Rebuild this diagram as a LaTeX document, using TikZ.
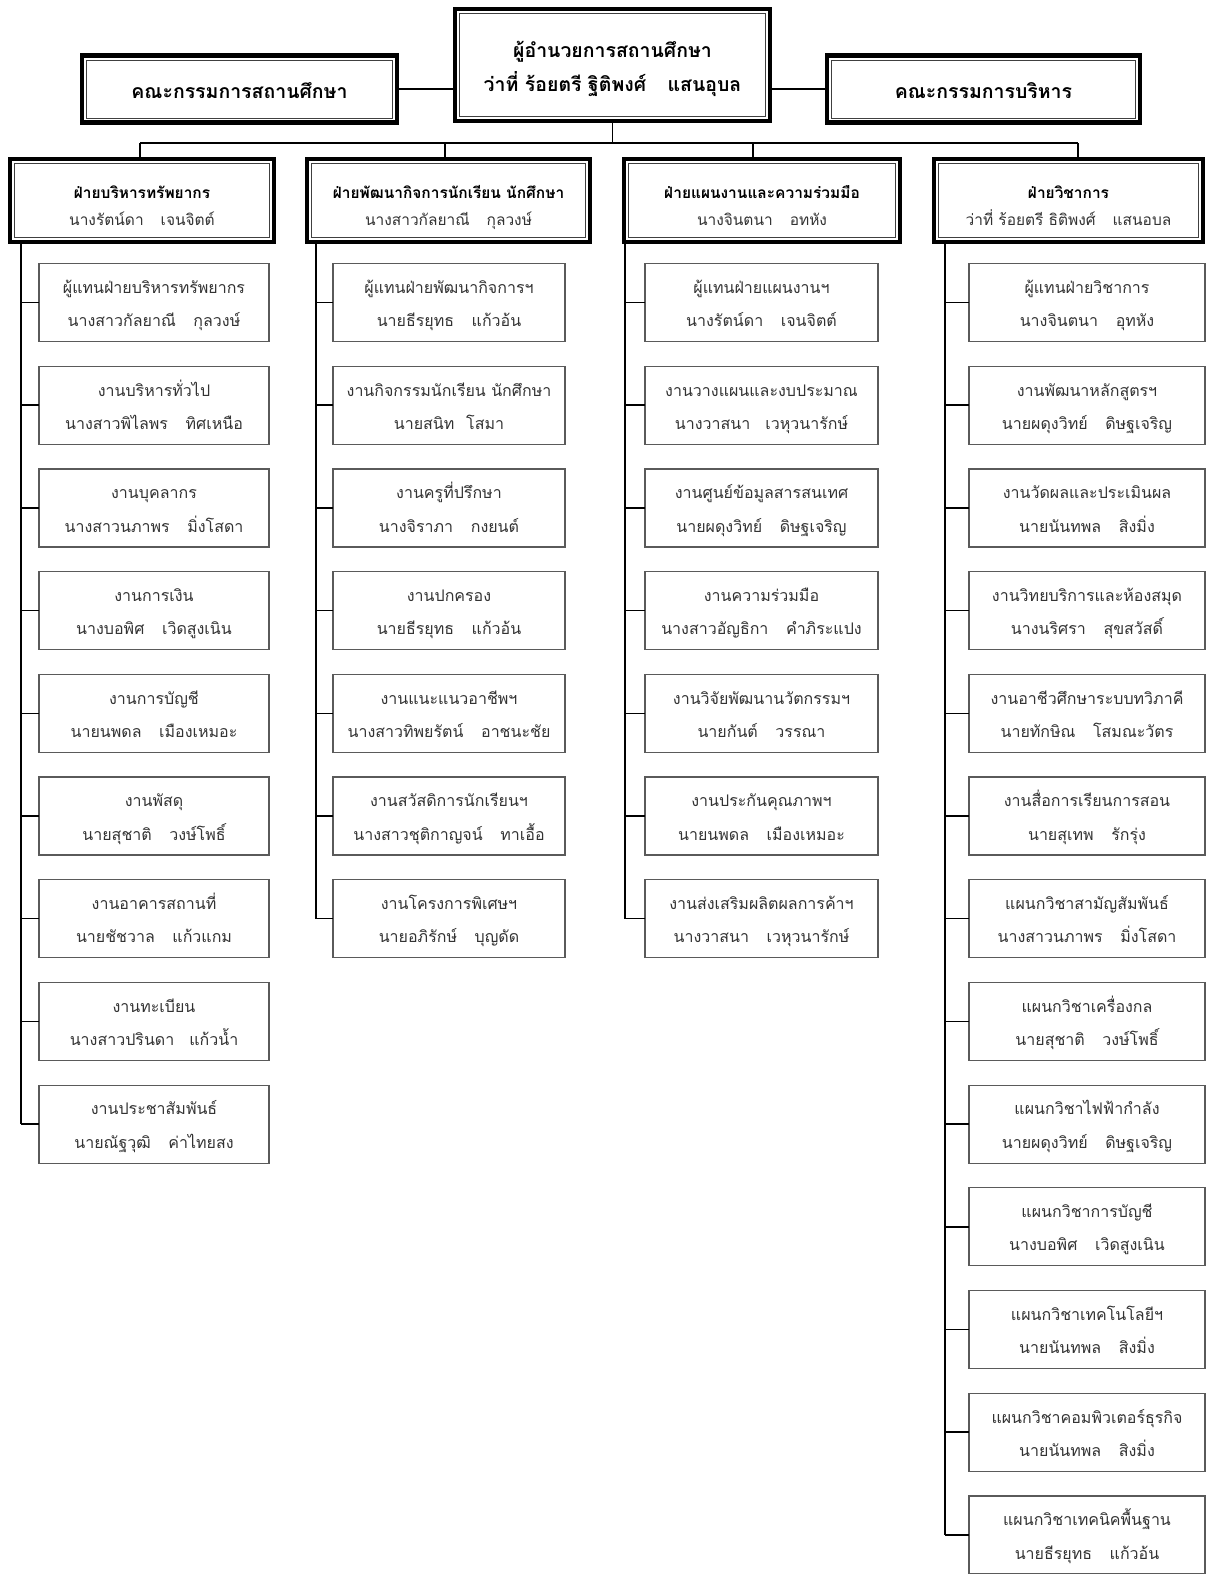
\documentclass[tikz,border=0pt]{standalone}
\usepackage{fontspec}
\setmainfont[Script=Thai]{Loma}
\definecolor{boxgray}{HTML}{5A5A5A}
\definecolor{txtgray}{HTML}{333333}
\newcommand\thgap{\hspace{1.1em}}
\newcommand\PX[1]{#1*0.75pt}
\newcommand\hiS[1]{\rule{0pt}{#1}}
\newcommand\loS[1]{\rule[-#1]{0pt}{0pt}}
\begin{document}
\begin{tikzpicture}[x={(0.75pt,0)},y={(0,-0.75pt)},
  bigbox/.style={draw=black, line width=3.2pt, outer sep=0pt, inner sep=0pt, align=center,
    font=\bfseries\fontsize{14.6}{25.5}\selectfont},
  headbox/.style={bigbox, minimum height=\PX{83}, font=\fontsize{11.6}{20}\selectfont},
  leaf/.style={draw=boxgray, line width=0.9pt, outer sep=0pt, inner sep=0pt, align=center,
    minimum height=\PX{78}, text=txtgray, font=\fontsize{12}{25}\selectfont},
  wire/.style={draw=black, line width=1.1pt},
  innerline/.style={draw=black!75, line width=0.6pt}]
\fill[white] (0,0) rectangle (1208,1574);
\useasboundingbox (0,0) rectangle (1208,1574);

% top level
\node[bigbox, minimum width=\PX{315}, minimum height=\PX{112}] (top) at (612.5,65)
  {\hiS{18.8pt}ผู้อำนวยการสถานศึกษา\\ว่าที่ ร้อยตรี ฐิติพงศ์\thgap แสนอุบล\loS{4.5pt}};
\node[bigbox, minimum width=\PX{315}, minimum height=\PX{67}] (L) at (239.5,89)
  {\hiS{18.2pt}คณะกรรมการสถานศึกษา\loS{4pt}};
\node[bigbox, minimum width=\PX{313}, minimum height=\PX{67}] (R) at (983.5,89)
  {\hiS{18.2pt}คณะกรรมการบริหาร\loS{4pt}};

% division heads
\node[headbox, minimum width=\PX{264}] (h1) at (142,200.5)
  {\hiS{21.2pt}\textbf{ฝ่ายบริหารทรัพยากร}\\\textcolor{txtgray}{นางรัตน์ดา\thgap เจนจิตต์}\loS{4pt}};
\node[headbox, minimum width=\PX{283}] (h2) at (448.5,200.5)
  {\hiS{21.2pt}\textbf{ฝ่ายพัฒนากิจการนักเรียน นักศึกษา}\\\textcolor{txtgray}{นางสาวกัลยาณี\thgap กุลวงษ์}\loS{4pt}};
\node[headbox, minimum width=\PX{276}] (h3) at (762,200.5)
  {\hiS{21.2pt}\textbf{ฝ่ายแผนงานและความร่วมมือ}\\\textcolor{txtgray}{นางจินตนา\thgap อทหัง}\loS{4pt}};
\node[headbox, minimum width=\PX{269}] (h4) at (1068.5,200.5)
  {\hiS{21.2pt}\textbf{ฝ่ายวิชาการ}\\\textcolor{txtgray}{ว่าที่ ร้อยตรี ธิติพงศ์\thgap แสนอบล}\loS{4pt}};

\foreach \n in {top,L,R,h1,h2,h3,h4}
  \draw[innerline] ([shift={(4.5,4.5)}]\n.north west) rectangle ([shift={(-4.5,-4.5)}]\n.south east);

% column 1
\foreach [count=\i] \t in {
  {ผู้แทนฝ่ายบริหารทรัพยากร\\นางสาวกัลยาณี\thgap กุลวงษ์},
  {งานบริหารทั่วไป\\นางสาวพิไลพร\thgap ทิศเหนือ},
  {งานบุคลากร\\นางสาวนภาพร\thgap มิ่งโสดา},
  {งานการเงิน\\นางบอพิศ\thgap เวิดสูงเนิน},
  {งานการบัญชี\\นายนพดล\thgap เมืองเหมอะ},
  {งานพัสดุ\\นายสุชาติ\thgap วงษ์โพธิ์},
  {งานอาคารสถานที่\\นายชัชวาล\thgap แก้วแกม},
  {งานทะเบียน\\นางสาวปรินดา\hspace{0.6em} แก้วน้ำ},
  {งานประชาสัมพันธ์\\นายณัฐวุฒิ\thgap ค่าไทยสง}}
  \node[leaf, minimum width=\PX{230}] (c1-\i) at (154,{302.5+102.7*(\i-1)}) {\hiS{15.2pt}\t\loS{4pt}};

% column 2
\foreach [count=\i] \t in {
  {ผู้แทนฝ่ายพัฒนากิจการฯ\\นายธีรยุทธ\thgap แก้วอ้น},
  {งานกิจกรรมนักเรียน นักศึกษา\\นายสนิท\hspace{0.4em} โสมา},
  {งานครูที่ปรึกษา\\นางจิราภา\thgap กงยนต์},
  {งานปกครอง\\นายธีรยุทธ\thgap แก้วอ้น},
  {งานแนะแนวอาชีพฯ\\นางสาวทิพยรัตน์\thgap อาชนะชัย},
  {งานสวัสดิการนักเรียนฯ\\นางสาวชุติกาญจน์\thgap ทาเอื้อ},
  {งานโครงการพิเศษฯ\\นายอภิรักษ์\thgap บุญดัด}}
  \node[leaf, minimum width=\PX{232}] (c2-\i) at (449,{302.5+102.7*(\i-1)}) {\hiS{15.2pt}\t\loS{4pt}};

% column 3
\foreach [count=\i] \t in {
  {ผู้แทนฝ่ายแผนงานฯ\\นางรัตน์ดา\thgap เจนจิตต์},
  {งานวางแผนและงบประมาณ\\นางวาสนา\hspace{0.6em} เวหุวนารักษ์},
  {งานศูนย์ข้อมูลสารสนเทศ\\นายผดุงวิทย์\thgap ดิษฐเจริญ},
  {งานความร่วมมือ\\นางสาวอัญธิกา\thgap คำภิระแปง},
  {งานวิจัยพัฒนานวัตกรรมฯ\\นายกันต์\thgap วรรณา},
  {งานประกันคุณภาพฯ\\นายนพดล\thgap เมืองเหมอะ},
  {งานส่งเสริมผลิตผลการค้าฯ\\นางวาสนา\thgap เวหุวนารักษ์}}
  \node[leaf, minimum width=\PX{233}] (c3-\i) at (761.5,{302.5+102.7*(\i-1)}) {\hiS{15.2pt}\t\loS{4pt}};

% column 4
\foreach [count=\i] \t in {
  {ผู้แทนฝ่ายวิชาการ\\นางจินตนา\thgap อุทหัง},
  {งานพัฒนาหลักสูตรฯ\\นายผดุงวิทย์\thgap ดิษฐเจริญ},
  {งานวัดผลและประเมินผล\\นายนันทพล\thgap สิงมิ่ง},
  {งานวิทยบริการและห้องสมุด\\นางนริศรา\thgap สุขสวัสดิ์},
  {งานอาชีวศึกษาระบบทวิภาคี\\นายทักษิณ\thgap โสมณะวัตร},
  {งานสื่อการเรียนการสอน\\นายสุเทพ\thgap รักรุ่ง},
  {แผนกวิชาสามัญสัมพันธ์\\นางสาวนภาพร\thgap มิ่งโสดา},
  {แผนกวิชาเครื่องกล\\นายสุชาติ\thgap วงษ์โพธิ์},
  {แผนกวิชาไฟฟ้ากำลัง\\นายผดุงวิทย์\thgap ดิษฐเจริญ},
  {แผนกวิชาการบัญชี\\นางบอพิศ\thgap เวิดสูงเนิน},
  {แผนกวิชาเทคโนโลยีฯ\\นายนันทพล\thgap สิงมิ่ง},
  {แผนกวิชาคอมพิวเตอร์ธุรกิจ\\นายนันทพล\thgap สิงมิ่ง},
  {แผนกวิชาเทคนิคพื้นฐาน\\นายธีรยุทธ\thgap แก้วอ้น}}
  \node[leaf, minimum width=\PX{236}] (c4-\i) at (1087,{302.5+102.7*(\i-1)}) {\hiS{15.2pt}\t\loS{4pt}};

% connectors, top level
\draw[wire] (L.east) -- (top.west |- L.east);
\draw[wire] (top.east |- R.west) -- (R.west);
\coordinate (b1) at (140,143);
\coordinate (b2) at (445,143);
\coordinate (b3) at (753,143);
\coordinate (b4) at (1078,143);
\draw[wire] (top.south) -- (top.south |- b1);
\draw[wire] (b1) -- (b4);
\draw[wire] (b1) -- (b1 |- h1.north);
\draw[wire] (b2) -- (b2 |- h2.north);
\draw[wire] (b3) -- (b3 |- h3.north);
\draw[wire] (b4) -- (b4 |- h4.north);

% column spines and ticks
\coordinate (v1) at (21,0);
\coordinate (v2) at (316,0);
\coordinate (v3) at (625,0);
\coordinate (v4) at (945,0);
\draw[wire] (v1 |- h1.south) -- (v1 |- c1-9.west);
\draw[wire] (v2 |- h2.south) -- (v2 |- c2-7.west);
\draw[wire] (v3 |- h3.south) -- (v3 |- c3-7.west);
\draw[wire] (v4 |- h4.south) -- (v4 |- c4-13.west);
\foreach \i in {1,...,9} \draw[wire] (v1 |- c1-\i.west) -- (c1-\i.west);
\foreach \i in {1,...,7} \draw[wire] (v2 |- c2-\i.west) -- (c2-\i.west);
\foreach \i in {1,...,7} \draw[wire] (v3 |- c3-\i.west) -- (c3-\i.west);
\foreach \i in {1,...,13} \draw[wire] (v4 |- c4-\i.west) -- (c4-\i.west);
\end{tikzpicture}
\end{document}
